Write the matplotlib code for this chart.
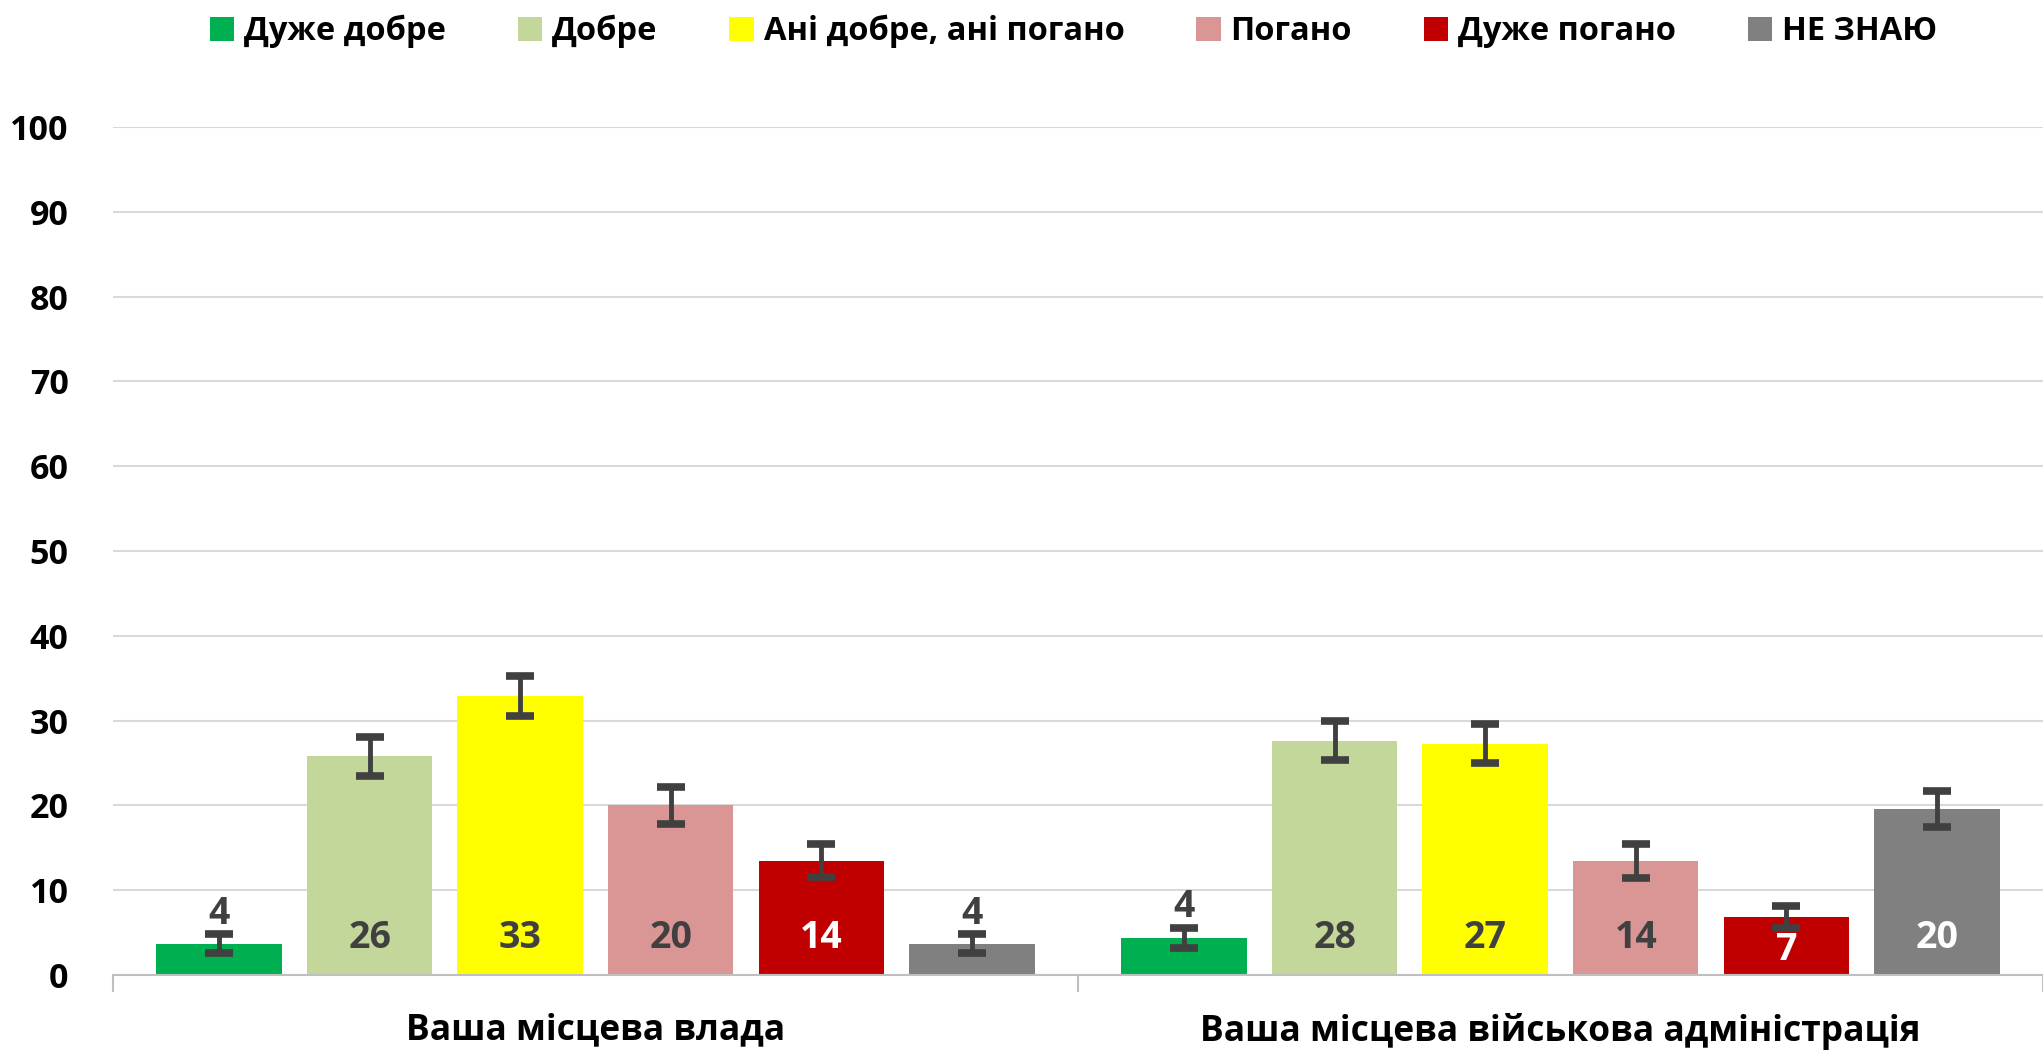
import numpy as np
import matplotlib
matplotlib.use("Agg")
import matplotlib.pyplot as plt

plt.rcParams['font.family'] = ['Open Sans', 'DejaVu Sans']
plt.rcParams['font.weight'] = 'bold'

categories = ["Ваша місцева влада", "Ваша місцева військова адміністрація"]
series = ["Дуже добре", "Добре", "Ані добре, ані погано", "Погано", "Дуже погано", "НЕ ЗНАЮ"]
colors = ["#00B050", "#C4D79B", "#FFFF00", "#DA9694", "#C00000", "#808080"]

# values per series: [місцева влада, військова адміністрація]
values = np.array([
    [3.7, 4.4],
    [25.8, 27.6],
    [32.9, 27.3],
    [20.0, 13.5],
    [13.5, 6.8],
    [3.7, 19.6],
])
errors = np.array([
    [1.1, 1.2],
    [2.3, 2.3],
    [2.4, 2.3],
    [2.2, 2.0],
    [1.9, 1.3],
    [1.1, 2.1],
])
labels = [["4", "4"], ["26", "28"], ["33", "27"], ["20", "14"], ["14", "7"], ["4", "20"]]
dark = [False, False, False, False, True, True]   # white text when inside these

fig = plt.figure(figsize=(20.43, 10.5), dpi=100)
ax = fig.add_axes([0.0553, 0.0714, 0.9447, 0.8076])

x = np.arange(len(categories))
step = 0.156
width = 0.130
for i, name in enumerate(series):
    pos = x + (i - 2.5) * step
    ax.bar(pos, values[i], width, color=colors[i], label=name, zorder=2)
    ax.errorbar(pos, values[i], yerr=errors[i], fmt='none', ecolor='#404040',
                elinewidth=3.5, capsize=10, capthick=5.5, zorder=3)
    for j in range(len(categories)):
        v = values[i][j]
        if v < 5:
            ax.text(pos[j], v + errors[i][j] + 2.4, labels[i][j], ha='center', va='center',
                    fontsize=27, fontweight='bold', color='#404040', zorder=4)
        else:
            c = 'white' if dark[i] else '#404040'
            ax.text(pos[j], min(4.4, v / 2 - 0.4), labels[i][j], ha='center', va='center',
                    fontsize=27, fontweight='bold', color=c, zorder=4)

ax.set_ylim(0, 100)
ax.set_xlim(-0.5, 1.5)
ax.set_yticks(np.arange(0, 101, 10))
ax.yaxis.grid(True, color='#D9D9D9', linewidth=1.5, zorder=0)
ax.set_axisbelow(True)
ax.tick_params(axis='y', length=0, labelsize=24.5, pad=32)
for t in ax.get_yticklabels():
    t.set_fontweight('bold')

ax.set_xticks(x)
ax.set_xticklabels(categories, fontsize=25.5, fontweight='bold')
ax.tick_params(axis='x', length=0, pad=27)
ax.set_xticks([-0.5, 0.5, 1.5], minor=True)
ax.tick_params(axis='x', which='minor', length=12, width=1.5, color='#BFBFBF')

for s in ['top', 'right', 'left']:
    ax.spines[s].set_visible(False)
ax.spines['bottom'].set_color('#BFBFBF')
ax.spines['bottom'].set_linewidth(1.5)

fig.legend(loc='center', bbox_to_anchor=(0.5255, 0.97), ncol=6, frameon=False,
           handlelength=0.75, handleheight=0.75, handletextpad=0.3,
           columnspacing=2.2, prop={'weight': 'bold', 'size': 23.5})

fig.savefig("out.png", dpi=100)
